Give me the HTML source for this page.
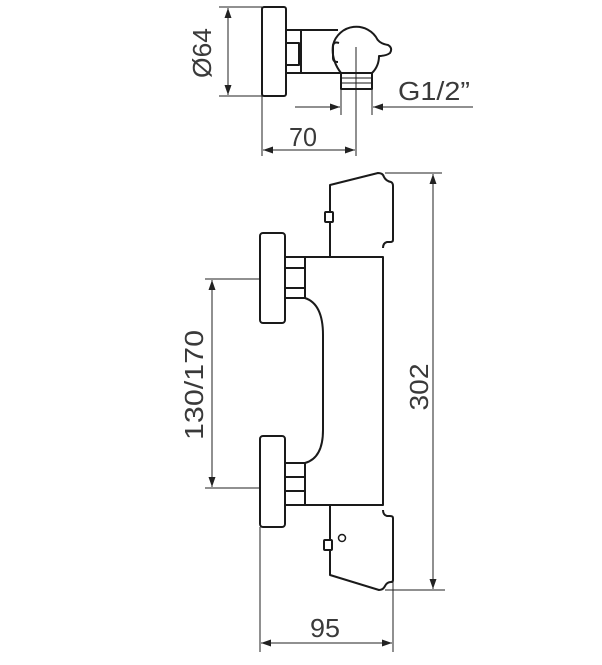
<!DOCTYPE html>
<html><head><meta charset="utf-8"><style>
html,body{margin:0;padding:0;background:#fff;}
svg{display:block;}
text{font-family:"Liberation Sans","DejaVu Sans",sans-serif;fill:#3a3a3a;}
</style></head><body>
<svg width="602" height="665" viewBox="0 0 602 665" xmlns="http://www.w3.org/2000/svg">
<defs>
<marker id="a" viewBox="0 0 10 10" refX="10" refY="5" markerWidth="10" markerHeight="10" markerUnits="userSpaceOnUse" orient="auto-start-reverse">
<path d="M0,1.5 L10,5 L0,8.5 Z" fill="#222"/></marker>
</defs>
<g fill="none" stroke="#222" stroke-width="1">
<line x1="219" y1="7" x2="262" y2="7"/>
<line x1="219" y1="96" x2="262" y2="96"/>
<line x1="228" y1="8" x2="228" y2="95" marker-start="url(#a)" marker-end="url(#a)"/>
<line x1="262" y1="96" x2="262" y2="156"/>
<line x1="356" y1="47" x2="356" y2="156"/>
<line x1="263" y1="150" x2="355" y2="150" marker-start="url(#a)" marker-end="url(#a)"/>
<line x1="341" y1="80" x2="341" y2="115"/>
<line x1="372" y1="80" x2="372" y2="115"/>
<line x1="295" y1="107" x2="340" y2="107" marker-end="url(#a)"/>
<line x1="473" y1="107" x2="373" y2="107" marker-end="url(#a)"/>
<line x1="205" y1="279" x2="260" y2="279"/>
<line x1="205" y1="488" x2="260" y2="488"/>
<line x1="212" y1="280" x2="212" y2="487" marker-start="url(#a)" marker-end="url(#a)"/>
<line x1="385" y1="173" x2="442" y2="173"/>
<line x1="385" y1="590" x2="445" y2="590"/>
<line x1="433" y1="174" x2="433" y2="589" marker-start="url(#a)" marker-end="url(#a)"/>
<line x1="260" y1="527" x2="260" y2="652"/>
<line x1="393" y1="582" x2="393" y2="652"/>
<line x1="261" y1="643" x2="392" y2="643" marker-start="url(#a)" marker-end="url(#a)"/>
</g>
<g fill="none" stroke="#1a1a1a" stroke-width="2" stroke-linejoin="round">
<rect x="262" y="7" width="24" height="89" rx="2"/>
<path d="M286,30 H301 V73 H286"/>
<path d="M286,43 H299 V65 H286"/>
<path d="M301,30 H338 M301,73 H341"/>
<path d="M339,43 Q333,41 333,47 V58 Q333,62 338,62"/>
<path d="M341,73 Q331,60 333,45 A24,24 0 0 1 377.7,39.9 Q381,44 388,45 Q393,48 390,53 Q386,56 379,56 A24,24 0 0 1 372,73"/>
<rect x="341" y="73" width="31" height="16"/>
<line x1="341" y1="78" x2="372" y2="78" stroke-width="1"/>
<line x1="341" y1="83" x2="372" y2="83" stroke-width="1"/>
<rect x="260" y="233" width="25" height="90" rx="3"/>
<rect x="260" y="436" width="25" height="91" rx="3"/>
<path d="M285,257 H305 V298 H285 M285,268 H305 M285,288 H305"/>
<path d="M285,463 H305 V505 H285 M285,477 H305 M285,491 H305"/>
<path d="M305,257 H383 V505 H305"/>
<path d="M305,298 Q323,304 323,335 V430 Q323,458 305,463"/>
<path d="M330,257 V185 L378,173 Q383,173 384,177 Q386,181 391,182 Q393,183 393,186 V240 Q393,242 390,242 H387 Q383,243 383,248"/>
<path d="M330,505 V575 L379,590 Q383,590 385,586 Q387,582 391,582 Q393,582 393,580 V518 Q393,516 390,516 H387 Q383,515 383,510"/>
<rect x="325" y="212" width="8" height="10" rx="1" fill="#fff"/>
<rect x="324" y="540" width="8" height="10" rx="1" fill="#fff"/>
<circle cx="342" cy="538" r="3.5" stroke-width="1.5"/>
</g>
<text x="0" y="0" font-size="26" textLength="50" lengthAdjust="spacingAndGlyphs" text-anchor="middle" transform="translate(211,53) rotate(-90)">Ø64</text>
<text x="289" y="146" font-size="26" textLength="28" lengthAdjust="spacingAndGlyphs">70</text>
<text x="398" y="100" font-size="26" textLength="72" lengthAdjust="spacingAndGlyphs">G1/2”</text>
<text x="0" y="0" font-size="26" textLength="110" lengthAdjust="spacingAndGlyphs" text-anchor="middle" transform="translate(203,385) rotate(-90)">130/170</text>
<text x="0" y="0" font-size="26" textLength="47" lengthAdjust="spacingAndGlyphs" text-anchor="middle" transform="translate(428,387) rotate(-90)">302</text>
<text x="310" y="637" font-size="26" textLength="30" lengthAdjust="spacingAndGlyphs">95</text>
</svg>
</body></html>
